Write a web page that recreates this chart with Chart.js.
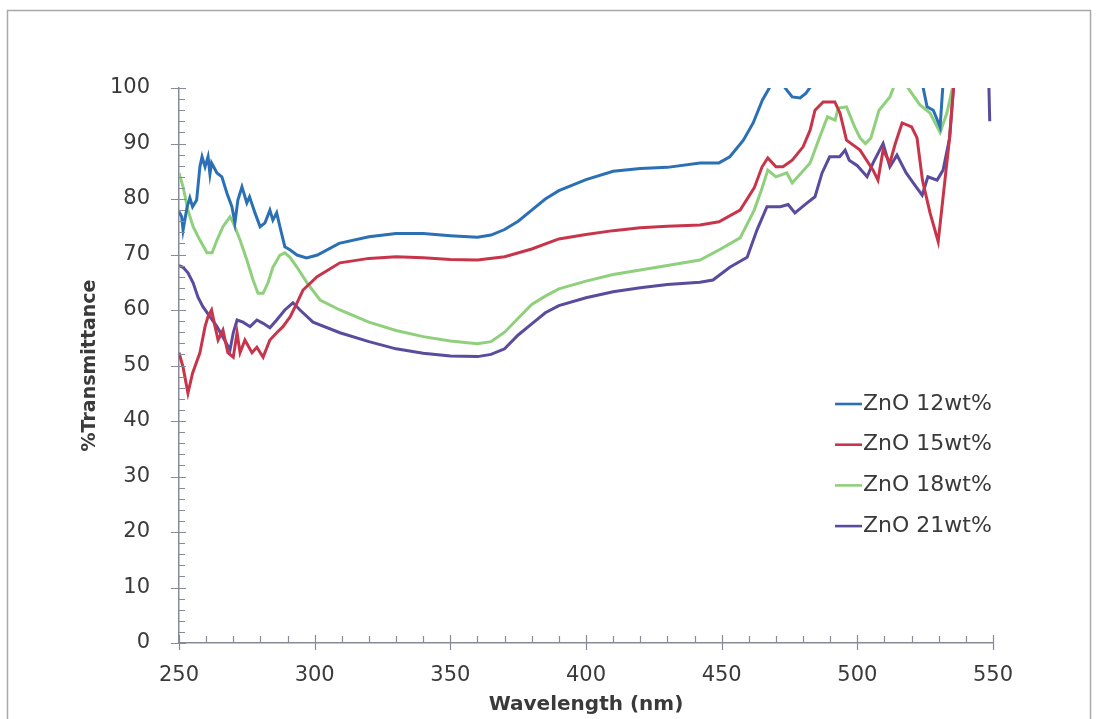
<!DOCTYPE html>
<html>
<head>
<meta charset="utf-8">
<title>ZnO transmittance</title>
<script src="https://cdn.jsdelivr.net/npm/chart.js@4.4.0/dist/chart.umd.min.js"></script>
<style>
  html, body { margin: 0; padding: 0; background: #fff; }
  canvas { display: block; }
</style>
</head>
<body>
<canvas id="chart" width="1103" height="719"></canvas>
<script>
// Data (wavelength in nm, %T)
const wave12 = [250, 251, 251.5, 253, 254, 255, 256.5, 257.7, 258.5, 259.6, 260.7, 261.4, 262, 264, 265.8, 267.7, 269.5, 270.6, 271.7, 273.2, 275, 276, 278, 279.9, 281.7, 283.5, 284.6, 286, 287.2, 289, 291, 293.5, 297, 301, 309, 320, 330, 340, 350, 360, 365, 370, 375, 380, 385, 390, 400, 410, 420, 430, 442, 449, 453, 458, 461.6, 465, 468.6, 471, 473.4, 476, 478.9, 481, 483.7, 490, 500, 515, 523.9, 525.7, 528, 530.5, 531.6, 540];
const trans12 = [77.7, 76.8, 74.4, 78.6, 80.2, 78.6, 79.8, 85.8, 87.6, 85.8, 87.6, 84.5, 86.5, 84.7, 84, 81, 78.6, 75.7, 79.8, 82.2, 79.3, 80.4, 77.5, 75, 75.7, 78, 76.2, 77.5, 75, 71.4, 70.8, 69.9, 69.4, 69.9, 72, 73.2, 73.8, 73.8, 73.4, 73.1, 73.5, 74.5, 76, 78, 80, 81.5, 83.5, 85, 85.5, 85.7, 86.5, 86.5, 87.6, 90.6, 93.7, 97.8, 100.9, 104, 100, 98.4, 98.2, 99, 100.9, 106, 108, 106, 100.9, 96.6, 96, 93, 100.9, 110];

const wave15 = [250, 251.5, 253.3, 255, 257.7, 259.6, 260.7, 262, 263.3, 264.4, 266.2, 268, 270, 271.4, 272.5, 274.3, 276.9, 278.7, 281, 283.5, 286, 288.3, 291, 293.5, 295.7, 300.9, 309.3, 320, 330, 340, 350, 360, 370, 380, 390, 400, 410, 420, 430, 442, 449, 456.8, 462, 464.9, 467, 470, 472.6, 476, 480, 482.6, 484.4, 487.4, 491.7, 493.6, 496, 501, 505.8, 507.6, 509.5, 512, 514, 516.5, 520, 522, 524, 526.8, 529.8, 534, 535.5, 537];
const trans15 = [52.3, 49.7, 45, 48.6, 52.3, 57, 58.8, 60, 57, 54.6, 56.4, 52.3, 51.5, 55.9, 52.3, 54.6, 52.3, 53.3, 51.5, 54.6, 55.9, 57, 58.8, 61.3, 63.6, 66, 68.5, 69.3, 69.6, 69.4, 69.1, 69, 69.6, 71, 72.8, 73.6, 74.3, 74.8, 75.1, 75.3, 75.9, 78, 82, 85.8, 87.4, 85.8, 85.8, 87, 89.4, 92.4, 96, 97.5, 97.5, 95.5, 90.6, 88.8, 85.2, 83.4, 88.8, 86.5, 90, 93.7, 93, 91, 83.4, 77.5, 72.3, 91, 100.5, 110];

const wave18 = [250, 251.5, 253.3, 255.2, 257.7, 260.3, 262.2, 264, 266.2, 268.8, 270, 272.5, 275, 277.3, 279.1, 281, 282.8, 284.6, 287.2, 289, 290.9, 293.5, 297.2, 302, 309.3, 320, 330, 340, 350, 360, 365, 370, 375, 380, 385, 390, 400, 410, 420, 430, 442, 449, 456.8, 462, 464.9, 467, 470, 474, 476, 482.6, 486, 489, 491.8, 493, 496, 499, 501, 503, 505, 508, 512, 514, 516, 518.7, 523, 526.8, 530.5, 533, 535.5];
const trans18 = [84.7, 82.2, 78, 75, 72.6, 70.3, 70.3, 72.6, 75, 76.8, 75.7, 72.6, 69, 65.4, 63, 63, 64.9, 67.7, 69.9, 70.3, 69.5, 67.7, 64.9, 61.8, 60, 57.8, 56.3, 55.2, 54.4, 53.9, 54.3, 56, 58.5, 61, 62.5, 63.8, 65.2, 66.4, 67.2, 68, 69, 70.8, 73, 78, 82, 85.2, 84, 84.7, 82.9, 86.5, 91, 94.8, 94.2, 96.4, 96.6, 93, 91, 90, 91, 96, 98.4, 100.9, 104, 100, 97, 95.5, 92, 95.5, 101];

const wave21 = [250, 251.5, 253.3, 255.2, 257, 258.8, 261.4, 264, 266.2, 268.8, 270, 271.4, 273.6, 276.2, 278.7, 281, 283.5, 286, 289, 292, 294.6, 299.4, 309.3, 320, 330, 340, 350, 360, 365, 370, 375, 380, 385, 390, 400, 410, 420, 430, 442, 446.8, 453, 459.4, 463, 466.7, 471.6, 474.5, 477, 481.5, 484.4, 487, 489.8, 493.5, 495.5, 497, 500, 503.6, 505.8, 509.5, 512, 514.6, 518, 520.6, 523.9, 526, 529.4, 531.6, 534, 535.5, 537, 548, 548.8];
const trans21 = [68, 67.7, 66.7, 64.9, 62.3, 60.6, 58.8, 57, 55.1, 52.8, 55.9, 58.2, 57.8, 57, 58.2, 57.6, 56.8, 58.2, 60, 61.3, 60, 57.8, 55.9, 54.3, 53, 52.2, 51.7, 51.6, 52, 53, 55.5, 57.5, 59.5, 60.8, 62.2, 63.3, 64, 64.6, 65, 65.4, 67.7, 69.5, 74.4, 78.6, 78.6, 79, 77.5, 79.3, 80.4, 84.7, 87.6, 87.6, 88.8, 87, 86, 84, 86.5, 90, 85.8, 87.9, 84.7, 82.9, 80.7, 84, 83.4, 85.2, 91, 100.5, 110, 110, 94];

const seriesNames = ['ZnO 12wt%', 'ZnO 15wt%', 'ZnO 18wt%', 'ZnO 21wt%'];
const seriesColors = ['#2b6fb4', '#c8354a', '#8fd07c', '#5a4b9f'];

const xMin = 250, xMax = 550, xStep = 50, xMinor = 10;
const yMin = 0, yMax = 100, yStep = 10, yMinor = 2;

const axisColor = '#878b98';
const textColor = '#3a3a3a';
const fontFamily = '"DejaVu Sans", sans-serif';

function points(xs, ys) {
    return xs.map((x, i) => ({ x: x, y: ys[i] }));
}

const allWaves = [wave12, wave15, wave18, wave21];
const allTrans = [trans12, trans15, trans18, trans21];

const datasets = seriesNames.map((name, i) => ({
    label: name,
    data: points(allWaves[i], allTrans[i]),
    borderColor: seriesColors[i],
    backgroundColor: seriesColors[i],
    borderWidth: 3,
    pointRadius: 0,
    tension: 0,
    fill: false
}));

// Outer frame of the figure
const framePlugin = {
    id: 'frame',
    beforeDraw(chart) {
        const ctx = chart.ctx;
        ctx.save();
        ctx.fillStyle = '#fff';
        ctx.fillRect(0, 0, chart.width, chart.height);
        ctx.strokeStyle = '#a9a9a9';
        ctx.lineWidth = 1.5;
        ctx.strokeRect(7.5, 10.5, 1083, 730);
        ctx.restore();
    }
};

// Excel-style tick marks (cross on majors, inside minors)
const tickPlugin = {
    id: 'excelTicks',
    afterDraw(chart) {
        const { ctx, chartArea } = chart;
        const xs = chart.scales.x, ys = chart.scales.y;
        ctx.save();
        ctx.strokeStyle = axisColor;
        ctx.lineWidth = 1.2;
        ctx.beginPath();
        for (let v = yMin; v <= yMax; v += yMinor) {
            const py = Math.round(ys.getPixelForValue(v)) + 0.5;
            const major = v % yStep === 0;
            ctx.moveTo(chartArea.left - (major ? 8 : 0), py);
            ctx.lineTo(chartArea.left + (major ? 7 : 6), py);
        }
        for (let v = xMin; v <= xMax; v += xMinor) {
            const px = Math.round(xs.getPixelForValue(v)) + 0.5;
            const major = (v - xMin) % xStep === 0;
            ctx.moveTo(px, chartArea.bottom - (major ? 8 : 7));
            ctx.lineTo(px, chartArea.bottom + (major ? 7 : 0));
        }
        ctx.stroke();
        ctx.restore();
    }
};

// Legend drawn inside the plot, right side
const legendPlugin = {
    id: 'insideLegend',
    afterDraw(chart) {
        const ctx = chart.ctx;
        const left = 835, lineLen = 27, top = 404, gap = 40.7;
        ctx.save();
        ctx.font = '22px ' + fontFamily;
        ctx.textBaseline = 'middle';
        chart.data.datasets.forEach((ds, i) => {
            const y = top + i * gap;
            ctx.strokeStyle = ds.borderColor;
            ctx.lineWidth = 2.6;
            ctx.beginPath();
            ctx.moveTo(left, y);
            ctx.lineTo(left + lineLen, y);
            ctx.stroke();
            ctx.fillStyle = textColor;
            ctx.fillText(ds.label, left + lineLen + 1, y);
        });
        ctx.restore();
    }
};

const ctx = document.getElementById('chart').getContext('2d');

new Chart(ctx, {
    type: 'line',
    data: { datasets: datasets },
    plugins: [framePlugin, tickPlugin, legendPlugin],
    options: {
        responsive: false,
        animation: false,
        devicePixelRatio: 1,
        layout: {
            padding: { left: 78, top: 88, right: 110, bottom: 0 }
        },
        plugins: {
            legend: { display: false },
            tooltip: { enabled: false }
        },
        scales: {
            x: {
                type: 'linear',
                min: xMin,
                max: xMax,
                afterFit(scale) { scale.height = 76; },
                ticks: {
                    stepSize: xStep,
                    padding: 20,
                    color: textColor,
                    font: { family: fontFamily, size: 21 }
                },
                grid: { display: false, drawTicks: false },
                border: { display: true, color: axisColor, width: 1.5 },
                title: {
                    display: true,
                    text: 'Wavelength (nm)',
                    color: textColor,
                    font: { family: fontFamily, size: 20, weight: 'bold' },
                    padding: { top: 0, bottom: 2 }
                }
            },
            y: {
                min: yMin,
                max: yMax,
                afterFit(scale) { scale.width = 101; },
                ticks: {
                    stepSize: yStep,
                    padding: 29,
                    color: textColor,
                    font: { family: fontFamily, size: 21 }
                },
                grid: { display: false, drawTicks: false },
                border: { display: true, color: axisColor, width: 1.5 },
                title: {
                    display: true,
                    text: '%Transmittance',
                    color: textColor,
                    font: { family: fontFamily, size: 19, weight: 'bold' },
                    padding: { top: 1, bottom: 0 }
                }
            }
        }
    }
});
</script>
</body>
</html>
